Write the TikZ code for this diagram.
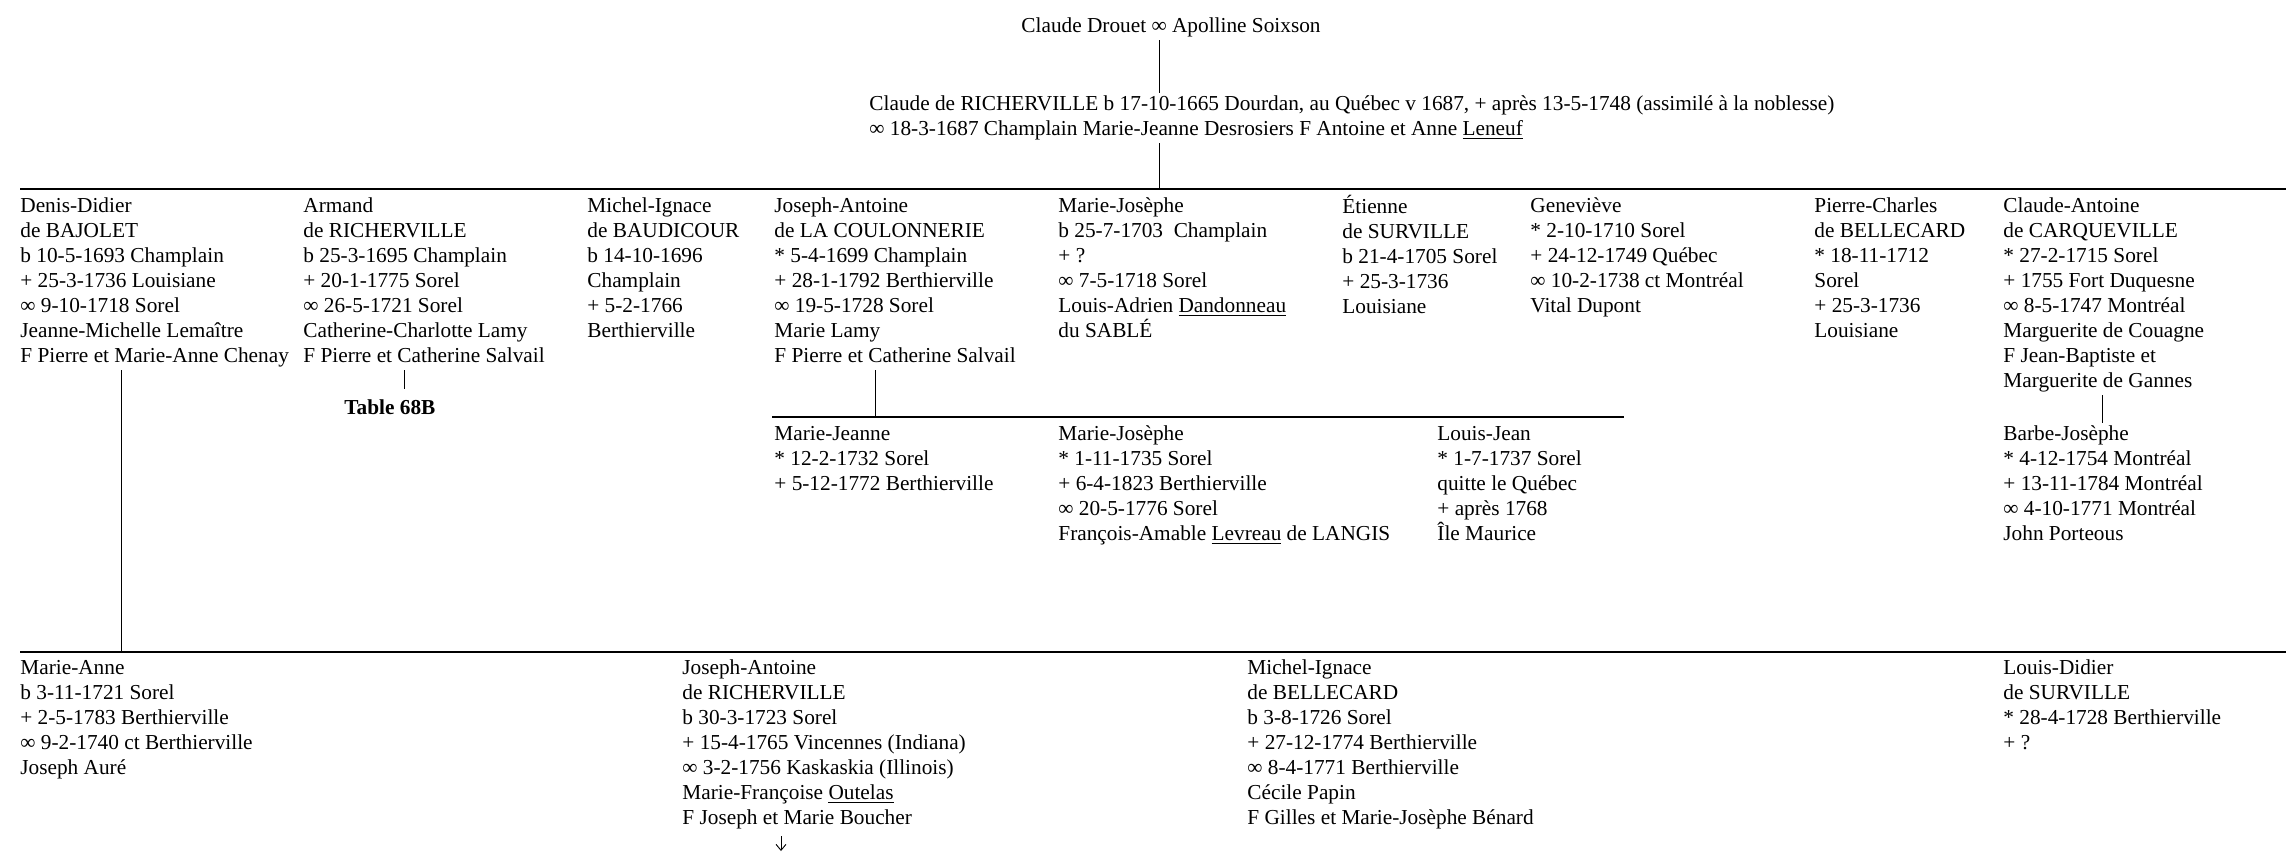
\documentclass[tikz,border=0pt]{standalone}
\usepackage{fontspec}
\setmainfont{Liberation Serif}
\usetikzlibrary{arrows.meta}
\newcommand\treefont{\fontsize{10.65}{12.5}\selectfont}

\begin{document}
\begin{tikzpicture}[
    x=0.5pt, y=-0.5pt,
    person/.style={
        anchor=north west,
        align=left,
        inner sep=0pt,
        font=\treefont
    },
    link/.style={draw, line width=0.45pt},
    bar/.style={draw, line width=0.8pt}
]
\useasboundingbox (0,0) rectangle (2294,853);

% parents
\node[person] (drouet) at (1021,14.5) {\strut Claude Drouet ∞ Apolline Soixson\strut};
\node[person] (claude) at (869,92.5) {\strut Claude de RICHERVILLE b 17-10-1665 Dourdan, au Québec v 1687, + après 13-5-1748 (assimilé à la noblesse)\\
    ∞ 18-3-1687 Champlain Marie-Jeanne Desrosiers F Antoine et Anne \underline{Leneuf}\strut};

% children
\node[person] (denis) at (20,194.5) {\strut Denis-Didier\\ de BAJOLET\\ b 10-5-1693 Champlain\\ + 25-3-1736 Louisiane\\
    ∞ 9-10-1718 Sorel\\ Jeanne-Michelle Lemaître\\ F Pierre et Marie-Anne Chenay\strut};
\node[person] (armand) at (303,194.5) {\strut Armand\\ de RICHERVILLE\\ b 25-3-1695 Champlain\\ + 20-1-1775 Sorel\\
    ∞ 26-5-1721 Sorel\\ Catherine-Charlotte Lamy\\ F Pierre et Catherine Salvail\strut};
\node[person] (baudicour) at (587,194.5) {\strut Michel-Ignace\\ de BAUDICOUR\\ b 14-10-1696\\ Champlain\\ + 5-2-1766\\ Berthierville\strut};
\node[person] (coulonnerie) at (774,194.5) {\strut Joseph-Antoine\\ de LA COULONNERIE\\ * 5-4-1699 Champlain\\ + 28-1-1792 Berthierville\\
    ∞ 19-5-1728 Sorel\\ Marie Lamy\\ F Pierre et Catherine Salvail\strut};
\node[person] (mariejo) at (1058,194.5) {\strut Marie-Josèphe\\ b 25-7-1703~ Champlain\\ + ?\\ ∞ 7-5-1718 Sorel\\
    Louis-Adrien \underline{Dandonneau}\\ du SABLÉ\strut};
\node[person] (etienne) at (1342,194.5) {\strut Étienne\\ de SURVILLE\\ b 21-4-1705 Sorel\\ + 25-3-1736\\ Louisiane\strut};
\node[person] (genevieve) at (1530,194.5) {\strut Geneviève\\ * 2-10-1710 Sorel\\ + 24-12-1749 Québec\\ ∞ 10-2-1738 ct Montréal\\ Vital Dupont\strut};
\node[person] (bellecard) at (1814,194.5) {\strut Pierre-Charles\\ de BELLECARD\\ * 18-11-1712\\ Sorel\\ + 25-3-1736\\ Louisiane\strut};
\node[person] (carqueville) at (2003,194.5) {\strut Claude-Antoine\\ de CARQUEVILLE\\ * 27-2-1715 Sorel\\ + 1755 Fort Duquesne\\
    ∞ 8-5-1747 Montréal\\ Marguerite de Couagne\\ F Jean-Baptiste et\\ Marguerite de Gannes\strut};
\node[anchor=base west, inner sep=0pt, font=\treefont\bfseries] (table68) at (344,414) {Table 68B};

% grandchildren
\node[person] (mariejeanne) at (774,422.5) {\strut Marie-Jeanne\\ * 12-2-1732 Sorel\\ + 5-12-1772 Berthierville\strut};
\node[person] (mariejo2) at (1058,422.5) {\strut Marie-Josèphe\\ * 1-11-1735 Sorel\\ + 6-4-1823 Berthierville\\
    ∞ 20-5-1776 Sorel\\ François-Amable \underline{Levreau} de LANGIS\strut};
\node[person] (louisjean) at (1437,422.5) {\strut Louis-Jean\\ * 1-7-1737 Sorel\\ quitte le Québec\\ + après 1768\\ Île Maurice\strut};
\node[person] (barbe) at (2003,422.5) {\strut Barbe-Josèphe\\ * 4-12-1754 Montréal\\ + 13-11-1784 Montréal\\
    ∞ 4-10-1771 Montréal\\ John Porteous\strut};

\node[person] (marieanne) at (20,656.5) {\strut Marie-Anne\\ b 3-11-1721 Sorel\\ + 2-5-1783 Berthierville\\
    ∞ 9-2-1740 ct Berthierville\\ Joseph Auré\strut};
\node[person] (richerville2) at (682,656.5) {\strut Joseph-Antoine\\ de RICHERVILLE\\ b 30-3-1723 Sorel\\
    + 15-4-1765 Vincennes (Indiana)\\ ∞ 3-2-1756 Kaskaskia (Illinois)\\ Marie-Françoise \underline{Outelas}\\ F Joseph et Marie Boucher\strut};
\node[person] (bellecard2) at (1247,656.5) {\strut Michel-Ignace\\ de BELLECARD\\ b 3-8-1726 Sorel\\ + 27-12-1774 Berthierville\\
    ∞ 8-4-1771 Berthierville\\ Cécile Papin\\ F Gilles et Marie-Josèphe Bénard\strut};
\node[person] (surville2) at (2003,656.5) {\strut Louis-Didier\\ de SURVILLE\\ * 28-4-1728 Berthierville\\ + ?\strut};

% bars and links
\coordinate (top) at (1159,189);
\coordinate (barAw) at (20,189);
\coordinate (barAe) at (2286,189);
\coordinate (barBw) at (772,417);
\coordinate (barBe) at (1624,417);
\coordinate (barCw) at (20,652);
\coordinate (barCe) at (2286,652);
\coordinate (denisdown) at (121,652);
\coordinate (armanddown) at (404,0);
\coordinate (coudown) at (875,417);
\coordinate (carqdown) at (2102,0);
\coordinate (more) at (781,851);

\draw[link] (drouet.south -| top) -- (claude.north -| top);
\draw[link] (claude.south -| top) -- (top);
\draw[bar] (barAw) -- (barAe);
\draw[bar] (barBw) -- (barBe);
\draw[bar] (barCw) -- (barCe);
\draw[link] (denis.south -| denisdown) -- (denisdown);
\draw[link, shorten >=5pt] (armand.south -| armanddown) -- (table68.north -| armanddown);
\draw[link] (coulonnerie.south -| coudown) -- (coudown);
\draw[link] (carqueville.south -| carqdown) -- (barbe.north -| carqdown);
\draw[link, -{Straight Barb[length=3pt,width=5pt]}, shorten <=2pt] (richerville2.south -| more) -- (more);

\end{tikzpicture}
\end{document}
